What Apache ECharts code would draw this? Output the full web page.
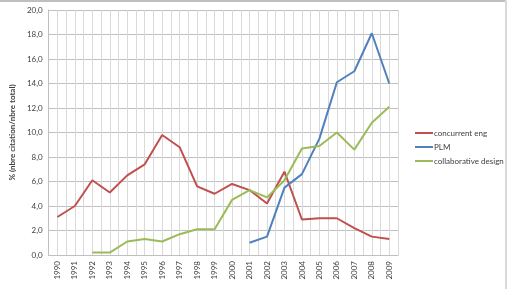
<!DOCTYPE html>
<html>
<head>
<meta charset="utf-8">
<script src="https://cdn.jsdelivr.net/npm/echarts@6/dist/echarts.min.js"></script>
<style>
html,body{margin:0;padding:0;background:#fff;}
#chart{width:507px;height:289px;}
</style>
</head>
<body>
<div id="chart"></div>
<script>
var years = [1990, 1991, 1992, 1993, 1994, 1995, 1996, 1997, 1998, 1999, 2000, 2001, 2002, 2003, 2004, 2005, 2006, 2007, 2008, 2009];
var concurrentEng = [3.1, 4.0, 6.1, 5.1, 6.5, 7.4, 9.8, 8.8, 5.6, 5.0, 5.8, 5.3, 4.2, 6.8, 2.9, 3.0, 3.0, 2.2, 1.5, 1.3];
var plm = [null, null, null, null, null, null, null, null, null, null, null, 1.0, 1.5, 5.5, 6.6, 9.5, 14.1, 15.0, 18.1, 14.0];
var collabDesign = [null, null, 0.2, 0.2, 1.1, 1.3, 1.1, 1.7, 2.1, 2.1, 4.5, 5.3, 4.7, 6.1, 8.7, 8.9, 10.0, 8.6, 10.8, 12.1];
var seriesNames = ['concurrent eng', 'PLM', 'collaborative design'];
var yTicks = [0, 2, 4, 6, 8, 10, 12, 14, 16, 18, 20];

function pairs(vals){
    var out = [];
    for (var i = 0; i < years.length; i++) {
        if (vals[i] !== null) out.push([years[i], vals[i]]);
    }
    return out;
}

var chart = echarts.init(document.getElementById('chart'));
var font = 'Lato, "Liberation Sans", sans-serif';
var option = {
    animation: false,
    textStyle: { fontFamily: font },
    // cadre du graphique (haut + droite)
    graphic: [{
        type: 'rect',
        shape: { x: 0, y: 0, width: 507, height: 2 },
        style: { fill: '#bfbfbf' }
    }, {
        type: 'rect',
        shape: { x: 505, y: 0, width: 2, height: 289 },
        style: { fill: '#d9d9d9' }
    }],
    grid: { left: 46, top: 10, right: 109, bottom: 34 },
    legend: {
        orient: 'vertical',
        left: 410,
        top: 124,
        itemWidth: 18,
        itemHeight: 2,
        itemGap: 6,
        icon: 'rect',
        textStyle: { fontSize: 8, color: '#404040', fontFamily: font, padding: [0, 0, 0, -4] },
        data: seriesNames
    },
    xAxis: {
        type: 'value',
        min: 1989.5,
        max: 2009.5,
        interval: 0.5,
        axisLine: { show: true, lineStyle: { color: '#bfbfbf' } },
        axisTick: { show: false },
        splitLine: { show: true, lineStyle: { color: '#d9d9d9', width: 1 } },
        axisLabel: {
            rotate: 90,
            fontSize: 8,
            color: '#404040',
            margin: 6,
            formatter: function(v){ return (Math.abs(v - Math.round(v)) < 0.01) ? String(Math.round(v)) : ''; }
        }
    },
    yAxis: {
        type: 'value',
        name: '% (nbre citation/nbre total)',
        nameLocation: 'middle',
        nameGap: 30,
        nameRotate: 90,
        nameTextStyle: { fontSize: 8, fontWeight: 'bold', color: '#404040' },
        min: yTicks[0],
        max: yTicks[yTicks.length - 1],
        interval: 2,
        axisLine: { show: true, lineStyle: { color: '#bfbfbf' } },
        axisTick: { show: false },
        splitLine: { show: true, lineStyle: { color: '#bfbfbf' } },
        axisLabel: {
            fontSize: 8,
            color: '#404040',
            margin: 6,
            formatter: function(v){ return v.toFixed(1).replace('.', ','); }
        }
    },
    series: [
        {
            name: seriesNames[0],
            type: 'line',
            showSymbol: false,
            data: pairs(concurrentEng),
            itemStyle: { color: '#C0504D' },
            lineStyle: { color: '#C0504D', width: 2 }
        },
        {
            name: seriesNames[1],
            type: 'line',
            showSymbol: false,
            data: pairs(plm),
            itemStyle: { color: '#4F81BD' },
            lineStyle: { color: '#4F81BD', width: 2 }
        },
        {
            name: seriesNames[2],
            type: 'line',
            showSymbol: false,
            data: pairs(collabDesign),
            itemStyle: { color: '#9BBB59' },
            lineStyle: { color: '#9BBB59', width: 2 }
        }
    ]
};
chart.setOption(option);
window.onresize = function(){
    chart.resize();
};
</script>
</body>
</html>
